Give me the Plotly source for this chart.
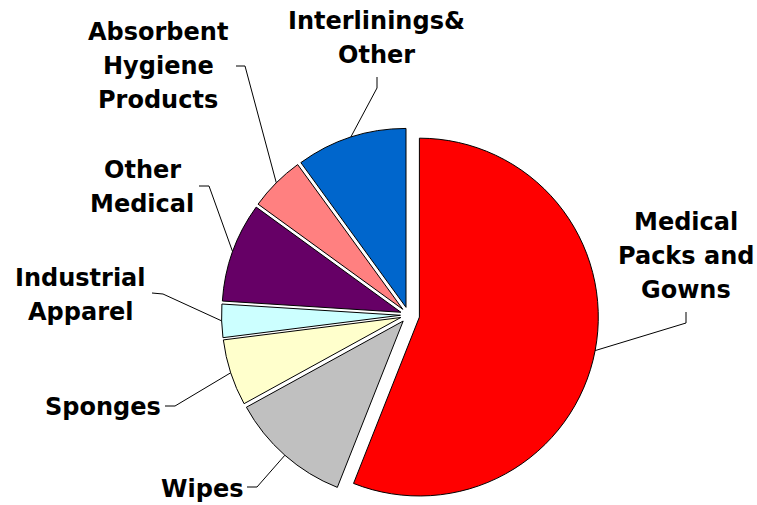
import math
import plotly.graph_objects as go

# ---- data ----
labels = ["Medical Packs and Gowns", "Wipes", "Sponges", "Industrial Apparel",
          "Other Medical", "Absorbent Hygiene Products", "Interlinings& Other"]
values = [56, 11, 6, 3, 9, 5, 10]
label_lines = [["Medical", "Packs and", "Gowns"], ["Wipes"], ["Sponges"],
               ["Industrial", "Apparel"], ["Other", "Medical"],
               ["Absorbent", "Hygiene", "Products"], ["Interlinings&", "Other"]]
colors = ["#FF0000", "#C0C0C0", "#FFFFCC", "#CCFFFF", "#660066", "#FF8080", "#0066CC"]
pulls = [0.062, 0.045, 0.045, 0.045, 0.045, 0.045, 0.045]

# ---- layout (pixels) ----
W, H = 757, 505
CX, CY = 408.5, 315.0
ry = H - CY
R = ry / (1 + max(pulls))
dom_x = [(CX - 230) / W, (CX + 230) / W]
dom_y = [0, 2 * ry / H]

# label placement: text centre x, first-line centre y, leader end, leader elbow
label_pos = [
    (686, 222, (686, 312), (686, 323)),
    (202, 489, (247, 487), (257, 487)),
    (103, 407, (165, 406), (175, 406)),
    (80, 278, (152, 293), (163, 294)),
    (142, 170, (199, 186), (209, 186)),
    (158, 32, (236, 66), (245, 66)),
    (376, 21, (377, 77), (377, 88)),
]
LINE_H = 34

def px(x):
    return x / W

def py(y):
    return 1 - y / H

fig = go.Figure(go.Pie(
    labels=labels, values=values, sort=False, direction="clockwise", rotation=0,
    pull=pulls, textinfo="none", hoverinfo="label+percent",
    marker=dict(colors=colors, line=dict(color="black", width=1)),
    domain=dict(x=dom_x, y=dom_y), showlegend=False,
))

total = sum(values)
cum = 0
annotations = []
shapes = []
for i, v in enumerate(values):
    bis = (cum + v / 2) / total * 2 * math.pi
    cum += v
    rr = R * (1 + pulls[i])
    ax = CX + rr * math.sin(bis)
    ay = CY - rr * math.cos(bis)
    tx, ty, end, elbow = label_pos[i]
    for k, line in enumerate(label_lines[i]):
        annotations.append(dict(
            x=px(tx), y=py(ty + k * LINE_H), xref="paper", yref="paper",
            text=line, showarrow=False, xanchor="center", yanchor="middle",
            font=dict(family="DejaVu Sans", size=24, color="black", weight="bold"),
        ))
    path = "M {} {} L {} {} L {} {}".format(px(end[0]), py(end[1]), px(elbow[0]), py(elbow[1]), px(ax), py(ay))
    shapes.append(dict(type="path", path=path, xref="paper", yref="paper",
                       line=dict(color="black", width=1)))

fig.update_layout(
    width=W, height=H, margin=dict(l=0, r=0, t=0, b=0),
    paper_bgcolor="white", plot_bgcolor="white",
    annotations=annotations, shapes=shapes,
)
fig.write_html("out.html")
